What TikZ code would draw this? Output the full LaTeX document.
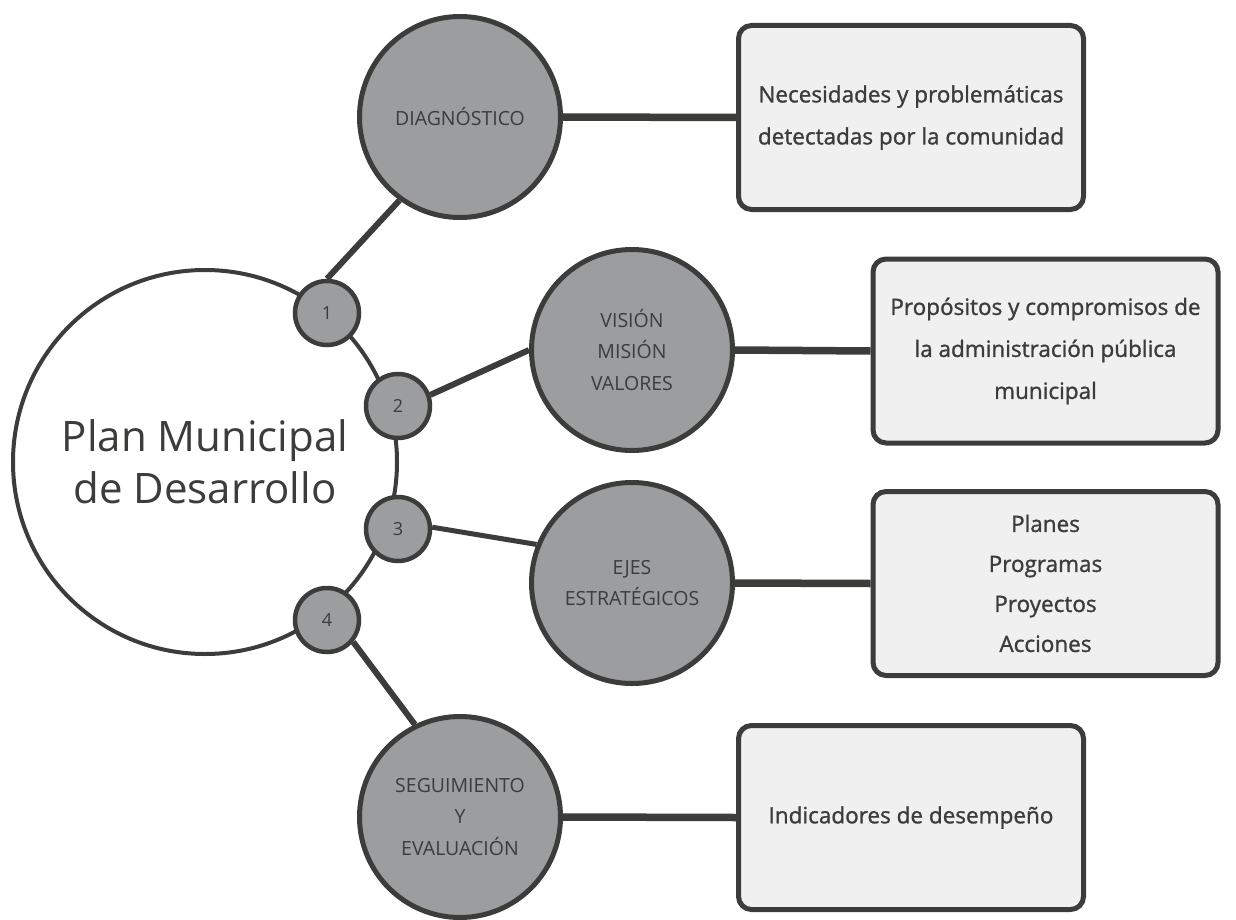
\documentclass[tikz,border=0pt]{standalone}
\usepackage{fontspec}
\setmainfont{Open Sans}
\newfontfamily\cajafont{Open Sans}[FakeBold=1.2]
\definecolor{linegray}{HTML}{3C3C3B}
\definecolor{ballgray}{HTML}{9C9D9F}
\definecolor{boxgray}{HTML}{F0F0F0}
\tikzset{
  plan/.style={circle, draw=linegray, line width=4pt, fill=white, minimum size=384pt, inner sep=0pt, text=linegray, align=center, font=\fontsize{42}{52}\selectfont},
  num/.style={circle, draw=linegray, line width=4.5pt, fill=ballgray, minimum size=64pt, inner sep=0pt, text=linegray, font=\fontsize{18}{20}\selectfont},
  etapa/.style={circle, draw=linegray, line width=5pt, fill=ballgray, minimum size=201pt, inner sep=0pt, text=linegray, align=center, font=\fontsize{19.5}{31.5}\selectfont},
  caja/.style={draw=linegray, line width=5pt, fill=boxgray, rounded corners=13pt, minimum width=345pt, minimum height=184pt, inner sep=0pt, text=linegray, align=center, font=\cajafont\fontsize{22.5}{42}\selectfont},
  enlace/.style={draw=linegray, line width=#1},
}
\begin{document}
\begin{tikzpicture}[x=1pt, y=-1pt]
      \useasboundingbox (0,0) rectangle (1236,920);

      % Plan circle
      \node[plan] (plan) at (205,462) {Plan Municipal\\de Desarrollo};

      % numbered steps on the plan circle
      \node[num] (n1) at (327,313) {1};
      \node[num] (n2) at (398,406) {2};
      \node[num] (n3) at (398,529) {3};
      \node[num] (n4) at (327,620) {4};

      % stages
      \node[etapa] (diag) at (460,117) {DIAGNÓSTICO};
      \node[etapa] (vision) at (632,350) {VISIÓN\\MISIÓN\\VALORES};
      \node[etapa] (ejes) at (632,583) {EJES\\ESTRATÉGICOS};
      \node[etapa] (seg) at (460,817) {SEGUIMIENTO\\Y\\EVALUACIÓN};

      % descriptions
      \node[caja] (necesidades) at (911,117.5) {Necesidades y problemáticas\\detectadas por la comunidad};
      \node[caja] (propositos) at (1045.5,351) {Propósitos y compromisos de\\la administración pública\\municipal};
      \node[caja, font=\cajafont\fontsize{22.5}{40}\selectfont] (planes) at (1045.5,583.5) {Planes\\Programas\\Proyectos\\Acciones};
      \node[caja] (indicadores) at (911,817.5) {Indicadores de desempeño};

      % steps to stages
      \draw[enlace=6pt] (n1.north) -- (diag.234);
      \draw[enlace=6pt] (n2.19) -- (vision.west);
      \draw[enlace=5pt] (n3.3) -- (ejes.158);
      \draw[enlace=6pt] (n4.-40) -- (seg.116);

      % stages to descriptions
      \draw[enlace=7.5pt] (diag.east) -- (necesidades.west);
      \draw[enlace=7.5pt] (vision.east) -- (propositos.west);
      \draw[enlace=7.5pt] (ejes.east) -- (planes.west);
      \draw[enlace=7.5pt] (seg.east) -- (indicadores.west);

\end{tikzpicture}
\end{document}
